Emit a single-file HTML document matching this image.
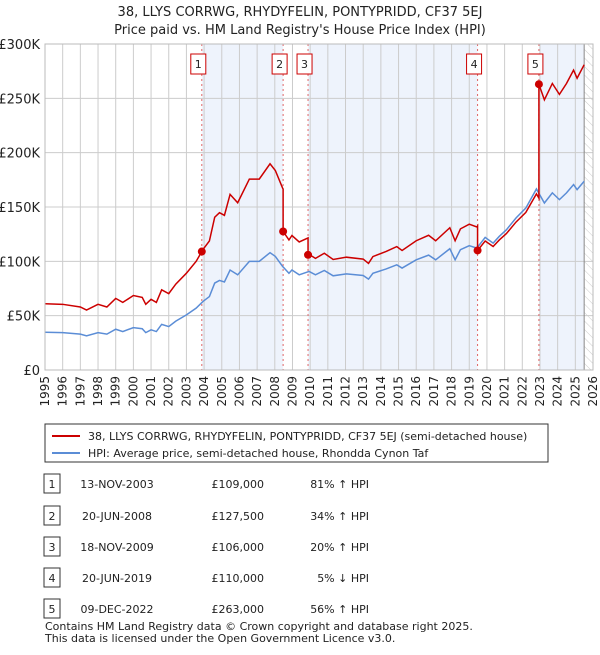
<!DOCTYPE html>
<html><head><meta charset="utf-8"><style>
body{margin:0;background:#fff;font-family:"Liberation Sans","DejaVu Sans",sans-serif;}
svg text{font-family:"DejaVu Sans","Liberation Sans",sans-serif;fill:#222;}
</style></head><body>
<svg id="c" width="600" height="650" viewBox="0 0 600 650" xmlns="http://www.w3.org/2000/svg">
<text x="300" y="16" text-anchor="middle" font-size="13">38, LLYS CORRWG, RHYDYFELIN, PONTYPRIDD, CF37 5EJ</text>
<text x="300" y="34" text-anchor="middle" font-size="13">Price paid vs. HM Land Registry's House Price Index (HPI)</text>
<defs><pattern id="hatch" width="6" height="6" patternUnits="userSpaceOnUse" patternTransform="rotate(-45)"><line x1="0" y1="0" x2="0" y2="6" stroke="#ccc" stroke-width="1"/></pattern></defs>
<g id="plot"></g>
<g>
<rect x="45" y="424" width="503" height="38" fill="#fff" stroke="#333" stroke-width="1"/>
<line x1="52" y1="436" x2="80" y2="436" stroke="#cc0000" stroke-width="2"/>
<text x="88" y="440" font-size="11">38, LLYS CORRWG, RHYDYFELIN, PONTYPRIDD, CF37 5EJ (semi-detached house)</text>
<line x1="52" y1="453" x2="80" y2="453" stroke="#5b8dd6" stroke-width="2"/>
<text x="88" y="457" font-size="11">HPI: Average price, semi-detached house, Rhondda Cynon Taf</text>
</g>
<g id="table"></g>
<text x="45" y="630" font-size="11" fill="#333">Contains HM Land Registry data © Crown copyright and database right 2025.</text>
<text x="45" y="642" font-size="11" fill="#333">This data is licensed under the Open Government Licence v3.0.</text>
</svg>
<script>
const hpiYears=[1995,1996,1997,1997.35,1998,1998.5,1999,1999.4,2000,2000.5,2000.7,2001,2001.3,2001.6,2002,2002.4,2003,2003.55,2003.93,2004.3,2004.6,2004.87,2005.15,2005.47,2005.9,2006.56,2007.12,2007.73,2008.03,2008.44,2008.8,2008.97,2009.38,2009.94,2010.3,2010.8,2011.3,2012.05,2013.0,2013.3,2013.55,2014.3,2014.9,2015.2,2016.0,2016.7,2017.1,2017.9,2018.2,2018.5,2019.0,2019.43,2019.9,2020.35,2020.7,2021.1,2021.65,2022.2,2022.8,2023.25,2023.7,2024.1,2024.5,2024.9,2025.1,2025.5];
const hpiValues=[34.7,34.4,33,31.4,34.4,33,37.5,35.4,39,38,34.4,37,35.4,42,40,45,50.7,56.9,63,67.6,80,82.4,81,92,87.6,100,100,108,104.5,95.3,89,92,87.6,90.7,87.6,91.6,86.7,88.5,87,83.6,89,93,96.8,93.8,101.4,105.7,101.4,111.6,101.4,110.7,114.4,112.2,122,116.8,123,129,140,149,166.6,153.7,163,156.8,163,170.6,166,173.7];
const saleLabels=["1","2","3","4","5"];
const saleDates=[2003.87,2008.47,2009.88,2019.47,2022.94];
const saleDateText=["13-NOV-2003","20-JUN-2008","18-NOV-2009","20-JUN-2019","09-DEC-2022"];
const salePrices=[109,127.5,106,110,263];
const salePriceText=["£109,000","£127,500","£106,000","£110,000","£263,000"];
const salePctText=["81% ↑ HPI","34% ↑ HPI","20% ↑ HPI","5% ↓ HPI","56% ↑ HPI"];
const yTicks=[0,50,100,150,200,250,300];
const yTickLabels=["£0","£50K","£100K","£150K","£200K","£250K","£300K"];
const xTicks=[1995,1996,1997,1998,1999,2000,2001,2002,2003,2004,2005,2006,2007,2008,2009,2010,2011,2012,2013,2014,2015,2016,2017,2018,2019,2020,2021,2022,2023,2024,2025,2026];

const NS="http://www.w3.org/2000/svg";
const X=yr=>45+(yr-1995)*(548/31);
const Y=v=>370-v*(326/300);
function mk(tag,attrs,parent,text){const e=document.createElementNS(NS,tag);for(const k in attrs)e.setAttribute(k,attrs[k]);if(text!==undefined)e.textContent=text;parent.appendChild(e);return e;}
function hpiAt(t){for(let i=0;i<hpiYears.length-1;i++){if(t>=hpiYears[i]&&t<=hpiYears[i+1]){const f=(t-hpiYears[i])/(hpiYears[i+1]-hpiYears[i]);return hpiValues[i]+f*(hpiValues[i+1]-hpiValues[i]);}}return hpiValues[hpiValues.length-1];}
const g=document.getElementById('plot');
const endYr=hpiYears[hpiYears.length-1];
const spans=[[0,1],[2,3],[4,-1]];
spans.forEach((s,i)=>{const a=X(saleDates[s[0]]),b=s[1]<0?X(endYr):X(saleDates[s[1]]);
const r=mk('rect',{x:a,y:Y(300),width:b-a,height:Y(0)-Y(300),fill:'#eef3fc'},g);

});
const hr=mk('rect',{x:X(endYr),y:Y(300),width:X(2026)-X(endYr),height:Y(0)-Y(300),fill:'url(#hatch)'},g);


xTicks.forEach(t=>{const l=mk('line',{x1:X(t),x2:X(t),y1:Y(300),y2:Y(0),stroke:'#cccccc','stroke-width':1},g);


const tx=mk('text',{x:0,y:0,'font-size':12,'text-anchor':'end',transform:`translate(${X(t)+4},376) rotate(-90)`},g,String(t));

});
yTicks.forEach((t,i)=>{const l=mk('line',{x1:X(1995),x2:X(2026),y1:Y(t),y2:Y(t),stroke:'#cccccc','stroke-width':1},g);


const tx=mk('text',{x:40,y:Y(t)+5,'font-size':13,'text-anchor':'end'},g,yTickLabels[i]);

});
const el=mk('line',{x1:X(endYr),x2:X(endYr),y1:Y(300),y2:Y(0),stroke:'#888','stroke-width':1},g);


saleDates.forEach((d,i)=>{const l=mk('line',{x1:X(d),x2:X(d),y1:Y(300),y2:Y(0),stroke:'#e06666','stroke-width':1,'stroke-dasharray':'2,3'},g);


const b=mk('rect',{x:X(d)-11,y:54,width:15,height:20,fill:'#fff',stroke:'#cc0000','stroke-width':1},g);


const t=mk('text',{x:X(d)-3.5,y:68,'font-size':11,'text-anchor':'middle'},g,saleLabels[i]);

});
const hp=mk('polyline',{points:hpiYears.map((t,i)=>X(t)+','+Y(hpiValues[i])).join(' '),fill:'none',stroke:'#5b8dd6','stroke-width':1.5},g);


const ratios=saleDates.map((d,i)=>salePrices[i]/hpiAt(d));
let pts=[];let si=0;let r=ratios[0];
hpiYears.forEach((t,i)=>{while(si<saleDates.length&&saleDates[si]<=t){const d=saleDates[si];pts.push([d,hpiAt(d)*r]);r=ratios[si];pts.push([d,salePrices[si]]);si++;}pts.push([t,hpiValues[i]*r]);});
const rp=mk('polyline',{points:pts.map(p=>X(p[0])+','+Y(p[1])).join(' '),fill:'none',stroke:'#cc0000','stroke-width':1.5},g);


saleDates.forEach((d,i)=>{const c=mk('circle',{cx:X(d),cy:Y(salePrices[i]),r:4,fill:'#cc0000'},g);

});
const fr=mk('rect',{x:X(1995),y:Y(300),width:X(2026)-X(1995),height:Y(0)-Y(300),fill:'none',stroke:'#bbbbbb','stroke-width':1},g);


const tb=document.getElementById('table');
const rowY=[484,516,547,578,609];
saleLabels.forEach((s,i)=>{const y=rowY[i];
const b=mk('rect',{x:44,y:y-10,width:16,height:19,fill:'#fff',stroke:'#333','stroke-width':1},tb);


const t1=mk('text',{x:52,y:y+4,'font-size':11,'text-anchor':'middle'},tb,s);


const t2=mk('text',{x:117,y:y+4,'font-size':11,'text-anchor':'middle'},tb,saleDateText[i]);


const t3=mk('text',{x:264,y:y+4,'font-size':11,'text-anchor':'end'},tb,salePriceText[i]);


const t4=mk('text',{x:369,y:y+4,'font-size':11,'text-anchor':'end'},tb,salePctText[i]);

});
</script>
</body></html>
